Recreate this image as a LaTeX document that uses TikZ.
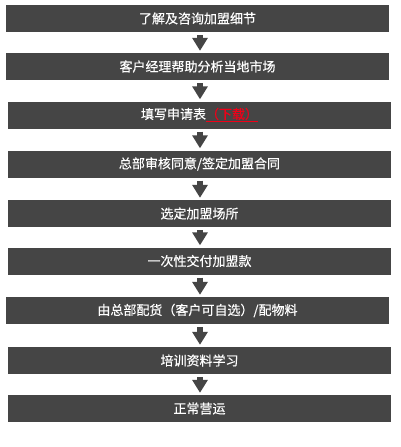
\documentclass[tikz,border=0pt]{standalone}
\usepackage{fontspec}
\newfontfamily\cjk[FakeBold=0.4]{Noto Sans CJK SC}
\usetikzlibrary{arrows.meta}
\definecolor{boxgray}{HTML}{454545}
\definecolor{linkred}{HTML}{F00018}
\begin{document}
\begin{tikzpicture}[x=1pt,y=-1pt,
  stepbox/.style={fill=boxgray, text=white, minimum width=383pt, minimum height=27pt, inner sep=0pt, font=\cjk\fontsize{13pt}{15pt}\selectfont},
  flow/.style={draw=boxgray, line width=6pt, -{Triangle[width=15pt,length=13pt]}, shorten <=3pt, shorten >=2pt}]
\fill[white] (0,0) rectangle (400,447);
\useasboundingbox (0,0) rectangle (400,447);
\coordinate (ax) at (200,0);
\node[stepbox] (s1) at (197.5,18.5) {了解及咨询加盟细节};
\node[stepbox] (s2) at (197.5,66.5) {客户经理帮助分析当地市场};
\node[stepbox] (s3) at (199.5,115) {填写申请表\textcolor{linkred}{\underline{（下载）}}};
\node[stepbox] (s4) at (199.5,164) {总部审核同意/签定加盟合同};
\node[stepbox] (s5) at (199.5,213.5) {选定加盟场所};
\node[stepbox] (s6) at (199.5,261) {一次性交付加盟款};
\node[stepbox] (s7) at (197.5,310.5) {由总部配货（客户可自选）/配物料};
\node[stepbox] (s8) at (199.5,360.5) {培训资料学习};
\node[stepbox] (s9) at (199.5,408.5) {正常营运};
\foreach \a/\b in {s1/s2,s2/s3,s3/s4,s4/s5,s5/s6,s6/s7,s7/s8,s8/s9}
  \draw[flow] (\a.south -| ax) -- (\b.north -| ax);
\end{tikzpicture}
\end{document}
